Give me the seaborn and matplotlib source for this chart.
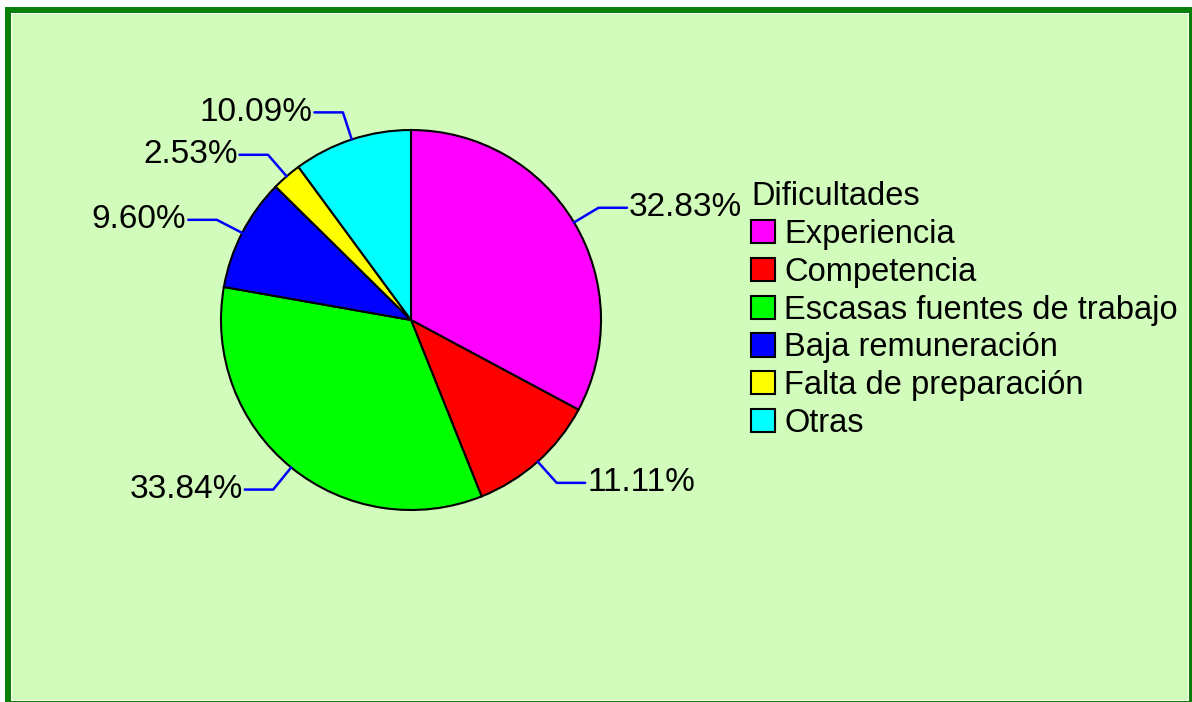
import numpy as np
import matplotlib
matplotlib.use("Agg")
import matplotlib.pyplot as plt
import seaborn as sns
from matplotlib.patches import Rectangle

sns.set_style("white")
plt.rcParams['font.family'] = ['Liberation Sans', 'DejaVu Sans']
plt.rcParams['text.color'] = 'black'

categories = ["Experiencia", "Competencia", "Escasas fuentes de trabajo",
              "Baja remuneración", "Falta de preparación", "Otras"]
values = [32.83, 11.11, 33.84, 9.60, 2.53, 10.09]
colors = ["#FF00FF", "#FF0000", "#00FF00", "#0000FF", "#FFFF00", "#00FFFF"]
legend_title = "Dificultades"

W, H = 1192, 702
fig = plt.figure(figsize=(W / 100, H / 100), dpi=100)
fig.patch.set_facecolor("white")

def px_rect(x0, y0, x1, y1, color, z):
    r = Rectangle((x0 / W, 1 - y1 / H), (x1 - x0) / W, (y1 - y0) / H,
                  transform=fig.transFigure, facecolor=color, edgecolor="none",
                  zorder=z)
    fig.patches.append(r)

px_rect(5, 7, 1200, 710, "#087F08", -10)
px_rect(11, 13, 1189, 701, "white", -9)
px_rect(12, 14, 1188, 700, "#D1FCBB", -8)

cx, cy, R = 411, 320, 190
ax = fig.add_axes([(cx - R) / W, 1 - (cy + R) / H, 2 * R / W, 2 * R / H])
ax.set_facecolor("none")
ax.patch.set_alpha(0)

wedges, _ = ax.pie(values, colors=colors, startangle=90, counterclock=False,
                   radius=1, wedgeprops=dict(edgecolor="black", linewidth=1.5))
ax.set_xlim(-1, 1)
ax.set_ylim(-1, 1)
ax.set_aspect("equal")
ax.axis("off")

for w, v in zip(wedges, values):
    ang = np.deg2rad((w.theta1 + w.theta2) / 2)
    x0, y0 = np.cos(ang), np.sin(ang)
    x1, y1 = 1.15 * x0, 1.15 * y0
    side = 1 if x0 >= 0 else -1
    x2 = x1 + side * 0.15
    ax.plot([x0, x1, x2], [y0, y1, y1], color="#0000FF", lw=1.8,
            clip_on=False, zorder=5)
    ax.text(x2 + side * 0.01, y1, f"{v:.2f}%", ha="left" if side > 0 else "right",
            va="center", fontsize=24, color="black", clip_on=False)

leg = fig.legend(wedges, categories, title=legend_title, loc="upper left",
                 bbox_to_anchor=(751 / W, 1 - 181 / H), frameon=False,
                 fontsize=23.5, title_fontsize=23.5, handlelength=0.74,
                 handleheight=0.72, handletextpad=0.28, labelspacing=0.21,
                 borderpad=0, borderaxespad=0, alignment="left")
for t in leg.get_texts():
    t.set_color("black")
leg.get_title().set_color("black")
for h in leg.legend_handles:
    h.set_edgecolor("black")
    h.set_linewidth(1.5)

fig.savefig("out.png", dpi=100, facecolor=fig.get_facecolor())
